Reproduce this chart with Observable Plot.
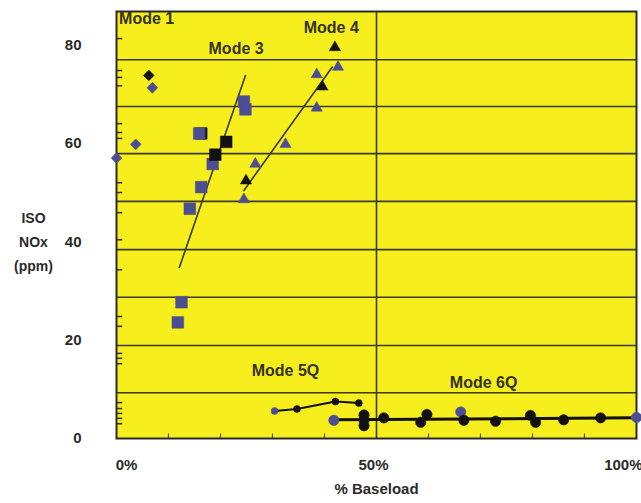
<!DOCTYPE html>
<html>
<head>
<meta charset="utf-8">
<script src="https://cdn.jsdelivr.net/npm/d3@7"></script>
<script src="https://cdn.jsdelivr.net/npm/@observablehq/plot@0.6"></script>
<style>
  html, body { margin: 0; padding: 0; background: #fff; }
  #chart { width: 641px; height: 503px; }
</style>
</head>
<body>
<div id="chart"></div>
<script>
// ---- Data ----
const mode1X = [0, 3.7, 6.2, 6.9];
const mode1Y = [57.0, 59.8, 73.8, 71.3];
const mode1C = ["b", "b", "k", "b"];

const mode3X = [11.8, 12.5, 14.1, 16.3, 18.5, 19.0, 21.1, 16.3, 15.9, 24.5, 24.8];
const mode3Y = [23.6, 27.7, 46.7, 51.1, 55.8, 57.7, 60.3, 62.0, 62.0, 68.5, 66.9];
const mode3C = ["b", "b", "b", "b", "b", "k", "k", "k", "b", "b", "b"];
const mode3FitX = [12.1, 24.8];
const mode3FitY = [34.8, 73.8];

const mode4X = [24.5, 24.9, 26.7, 32.5, 38.5, 39.6, 38.5, 42.6, 42.0];
const mode4Y = [48.6, 52.4, 55.8, 59.8, 67.2, 71.5, 74.0, 75.5, 79.5];
const mode4C = ["b", "k", "b", "b", "b", "k", "b", "b", "k"];
const mode4FitX = [24.5, 41.5];
const mode4FitY = [50.4, 75.5];

const mode5X = [30.4, 34.7, 42.1, 46.6];
const mode5Y = [5.6, 6.0, 7.5, 7.2];
const mode5C = ["b", "k", "k", "k"];

const mode6X = [41.8, 47.6, 47.6, 47.6, 51.4, 58.5, 59.7, 66.2, 66.8, 72.9, 79.6, 80.6, 86.0, 93.1, 100];
const mode6Y = [3.7, 2.6, 3.7, 4.8, 4.2, 3.3, 4.9, 5.4, 3.7, 3.5, 4.7, 3.3, 3.8, 4.2, 4.3];
const mode6C = ["b", "k", "k", "k", "k", "k", "k", "b", "k", "k", "k", "k", "k", "k", "b"];
const mode6FitX = [41.8, 100];
const mode6FitY = [3.8, 4.2];

const modeLabels = ["Mode 1", "Mode 3", "Mode 4", "Mode 5Q", "Mode 6Q"];
const modeLabelX = [5.8, 23.0, 41.3, 32.5, 70.6];
const modeLabelY = [85.4, 79.3, 83.5, 13.8, 11.4];

const yTicks = [0, 20, 40, 60, 80];
const yTickLabels = ["0", "20", "40", "60", "80"];
const xTicks = [0, 50, 100];
const xTickLabels = ["0%", "50%", "100%"];
const gridY = [9.3, 18.9, 28.7, 38.4, 48.2, 57.9, 67.5, 77.0];
const gridX = [50];
const minorY = [3.0, 4.1, 5.1, 6.1, 7.3, 15.2, 16.3, 17.3, 22.8, 24.8, 34.3, 40.4, 45.9, 50.0, 52.0, 61.0, 62.2, 64.0, 71.7, 73.4, 74.8, 81.3];
const minorX = [10, 20, 30, 40, 60, 70, 80, 90];

// ---- Build tables ----
const colorOf = c => c === "k" ? "#111111" : "#4b4e93";
const pts = (X, Y, C) => X.map((x, i) => ({x, y: Y[i], c: colorOf(C[i])}));
const line = (X, Y) => X.map((x, i) => ({x, y: Y[i]}));

const m1 = pts(mode1X, mode1Y, mode1C);
const m3 = pts(mode3X, mode3Y, mode3C);
const m4 = pts(mode4X, mode4Y, mode4C);
const m5 = pts(mode5X, mode5Y, mode5C);
const m6 = pts(mode6X, mode6Y, mode6C);
const labels = modeLabels.map((t, i) => ({t, x: modeLabelX[i], y: modeLabelY[i]}));

const fitColor = "#3a3815";
const txtColor = "#2a2a2a";
const xLab = d => xTickLabels[xTicks.indexOf(d)];

const chart = Plot.plot({
  width: 641,
  height: 503,
  marginLeft: 116,
  marginRight: 5,
  marginTop: 11,
  marginBottom: 65,
  x: {domain: [0, 100]},
  y: {domain: [0, 86.8]},
  style: {fontFamily: "'Liberation Sans', Arial, sans-serif", background: "#fff", color: txtColor},
  marks: [
    Plot.frame({fill: "#f7ee1e"}),
    Plot.ruleY(gridY, {stroke: "#3b3a16", strokeWidth: 1.6}),
    Plot.ruleX(gridX, {stroke: "#3b3a16", strokeWidth: 1.6}),
    Plot.ruleY(minorY, {x1: 0, x2: 1.2, stroke: "#333", strokeWidth: 1.5}),
    Plot.ruleX(minorX, {y1: 0, y2: 0.9, stroke: "#555", strokeWidth: 1.2}),
    Plot.frame({stroke: "#2b2b2b", strokeWidth: 2}),

    // regression / connecting lines
    Plot.line(line(mode3FitX, mode3FitY), {x: "x", y: "y", stroke: fitColor, strokeWidth: 1.6}),
    Plot.line(line(mode4FitX, mode4FitY), {x: "x", y: "y", stroke: fitColor, strokeWidth: 1.6}),
    Plot.line(m5, {x: "x", y: "y", stroke: "#111", strokeWidth: 2}),
    Plot.line(line(mode6FitX, mode6FitY), {x: "x", y: "y", stroke: "#111", strokeWidth: 3}),

    // points
    Plot.dot(m1, {x: "x", y: "y", symbol: "square", rotate: 45, r: 4.3, fill: "c", stroke: "c", strokeWidth: 0.5, clip: false}),
    Plot.dot(m3, {x: "x", y: "y", symbol: "square", r: 6.6, fill: "c", stroke: "c", strokeWidth: 0.5}),
    Plot.dot(m4, {x: "x", y: "y", symbol: "triangle", r: 4.2, fill: "c", stroke: "c", strokeWidth: 0.5}),
    Plot.dot(m5, {x: "x", y: "y", r: 3.5, fill: "c", stroke: "c", strokeWidth: 0.5}),
    Plot.dot(m6, {x: "x", y: "y", r: 5.2, fill: "c", stroke: "c", strokeWidth: 0.5, clip: false}),

    // mode labels
    Plot.text(labels, {x: "x", y: "y", text: "t", fontSize: 16, fontWeight: "bold", fill: "#34331c", ariaLabel: "modelabels"}),

    // axes
    Plot.axisY(yTicks, {tickSize: 0, tickPadding: 35, fontSize: 15, fontWeight: "bold", fill: txtColor, label: null, tickFormat: (d, i) => yTickLabels[i]}),
    Plot.axisX(xTicks.slice(0, 1), {tickSize: 0, tickPadding: 21, dx: 10, fontSize: 15, fontWeight: "bold", fill: txtColor, label: null, tickFormat: xLab}),
    Plot.axisX(xTicks.slice(1, 2), {tickSize: 0, tickPadding: 21, dx: -3, fontSize: 15, fontWeight: "bold", fill: txtColor, label: null, tickFormat: xLab}),
    Plot.axisX(xTicks.slice(2), {tickSize: 0, tickPadding: 21, dx: 6, textAnchor: "end", fontSize: 15, fontWeight: "bold", fill: txtColor, label: null, tickFormat: xLab}),

    // axis titles
    Plot.text(["ISO\nNOx\n(ppm)"], {frameAnchor: "left", dx: -83, dy: 14, textAnchor: "middle", lineHeight: 1.71, fontSize: 14, fontWeight: "bold", fill: txtColor}),
    Plot.text(["% Baseload"], {frameAnchor: "bottom", dy: 55, textAnchor: "middle", fontSize: 15, fontWeight: "bold", fill: txtColor, ariaLabel: "xtitle"})
  ]
});

d3.select(chart).selectAll('g[aria-label="modelabels"] text').style("letter-spacing", "1.4px");
d3.select(chart).selectAll('g[aria-label="xtitle"] text').style("letter-spacing", "1px");
document.getElementById("chart").appendChild(chart);
</script>
</body>
</html>
